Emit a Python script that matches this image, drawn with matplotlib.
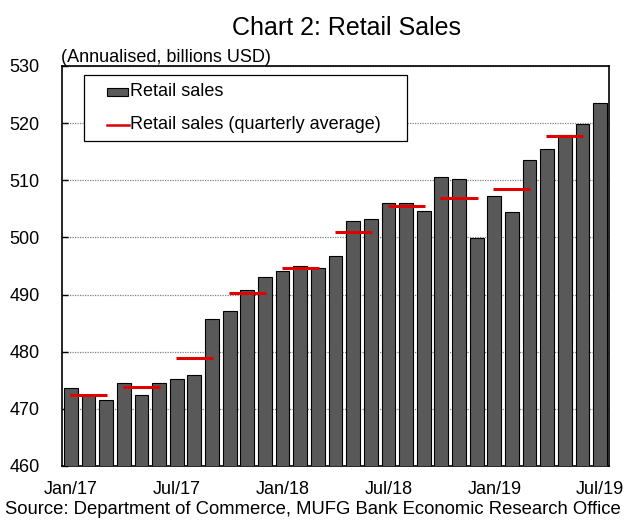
import matplotlib
matplotlib.use("Agg")
import matplotlib.pyplot as plt
from matplotlib.patches import Rectangle
from matplotlib.lines import Line2D

plt.rcParams['font.family'] = ['Liberation Sans', 'DejaVu Sans']

months = ["Jan/17", "Feb/17", "Mar/17", "Apr/17", "May/17", "Jun/17", "Jul/17", "Aug/17",
          "Sep/17", "Oct/17", "Nov/17", "Dec/17", "Jan/18", "Feb/18", "Mar/18", "Apr/18",
          "May/18", "Jun/18", "Jul/18", "Aug/18", "Sep/18", "Oct/18", "Nov/18", "Dec/18",
          "Jan/19", "Feb/19", "Mar/19", "Apr/19", "May/19", "Jun/19", "Jul/19"]
retail_sales = [473.7, 472.5, 471.5, 474.6, 472.5, 474.5, 475.2, 476.0,
                485.7, 487.1, 490.8, 493.0, 494.2, 495.0, 494.6, 496.7,
                502.9, 503.2, 506.0, 506.0, 504.6, 510.5, 510.2, 499.9,
                507.2, 504.4, 513.6, 515.5, 518.0, 519.8, 523.5]
quarter_mid_months = ["Feb/17", "May/17", "Aug/17", "Nov/17", "Feb/18", "May/18",
                      "Aug/18", "Nov/18", "Feb/19", "May/19"]
quarterly_avg = [472.5, 473.9, 478.9, 490.3, 494.6, 500.9, 505.5, 506.9, 508.4, 517.8]
xtick_labels = ["Jan/17", "Jul/17", "Jan/18", "Jul/18", "Jan/19", "Jul/19"]
legend_labels = ["Retail sales", "Retail sales (quarterly average)"]

W, H = 627, 520
fig = plt.figure(figsize=(W / 100, H / 100), dpi=100)
AX_L, AX_R, AX_T, AX_B = 62, 609, 66, 466
ax = fig.add_axes([AX_L / W, 1 - AX_B / H, (AX_R - AX_L) / W, (AX_B - AX_T) / H])

BAR_COLOR = "#595959"
RED = "#e00000"

x = list(range(len(months)))
ax.bar(x, retail_sales, width=0.78, color=BAR_COLOR, edgecolor="black",
       linewidth=0.8, zorder=3)

for m, v in zip(quarter_mid_months, quarterly_avg):
    i = months.index(m)
    ax.hlines(v, i - 1.05, i + 1.05, colors=RED, linewidth=2.2, zorder=4)

ax.set_ylim(460, 530)
ax.set_xlim(-0.5, len(months) - 0.5)
ax.set_yticks(range(460, 531, 10))
ax.set_xticks([months.index(l) for l in xtick_labels])
ax.set_xticklabels(xtick_labels)
ax.tick_params(axis='x', labelsize=13, length=0, pad=11)
ax.tick_params(axis='y', labelsize=13, length=4, direction='in', pad=16, width=1)
ax.yaxis.grid(True, linestyle=(0, (1, 1)), color="#808080", linewidth=0.9, zorder=0)
ax.set_axisbelow(True)
for s in ax.spines.values():
    s.set_color("black")
    s.set_linewidth(1.2)


def px(xp, yp):
    """pixel (from top-left of figure) -> axes fraction"""
    return (xp - AX_L) / (AX_R - AX_L), (AX_B - yp) / (AX_B - AX_T)


# legend box drawn in axes coordinates
x0, y0 = px(84, 141)
x1, y1 = px(407, 75)
ax.add_patch(Rectangle((x0, y0), x1 - x0, y1 - y0, transform=ax.transAxes,
                       facecolor="white", edgecolor="black", linewidth=0.9, zorder=10))
hx0, hy0 = px(107, 96)
hx1, hy1 = px(128, 88)
ax.add_patch(Rectangle((hx0, hy0), hx1 - hx0, hy1 - hy0, transform=ax.transAxes,
                       facecolor=BAR_COLOR, edgecolor="black", linewidth=0.8, zorder=11))
lx0, ly = px(107, 124.5)
lx1, _ = px(129, 124.5)
ax.add_line(Line2D([lx0, lx1], [ly, ly], transform=ax.transAxes, color=RED,
                   linewidth=1.8, zorder=11))
tx, ty1 = px(130, 91.5)
_, ty2 = px(130, 124.5)
ax.text(tx, ty1, legend_labels[0], transform=ax.transAxes, ha="left", va="center",
        fontsize=13, zorder=12)
ax.text(tx, ty2, legend_labels[1], transform=ax.transAxes, ha="left", va="center",
        fontsize=13, zorder=12)

fig.text(346 / W, 1 - 28 / H, "Chart 2: Retail Sales", ha="center", va="center", fontsize=18)
fig.text(61 / W, 1 - 57 / H, "(Annualised, billions USD)", ha="left", va="center", fontsize=13)
fig.text(313 / W, 1 - 509 / H, "Source: Department of Commerce, MUFG Bank Economic Research Office",
         ha="center", va="center", fontsize=13.3)

fig.savefig("out.png", dpi=100)
